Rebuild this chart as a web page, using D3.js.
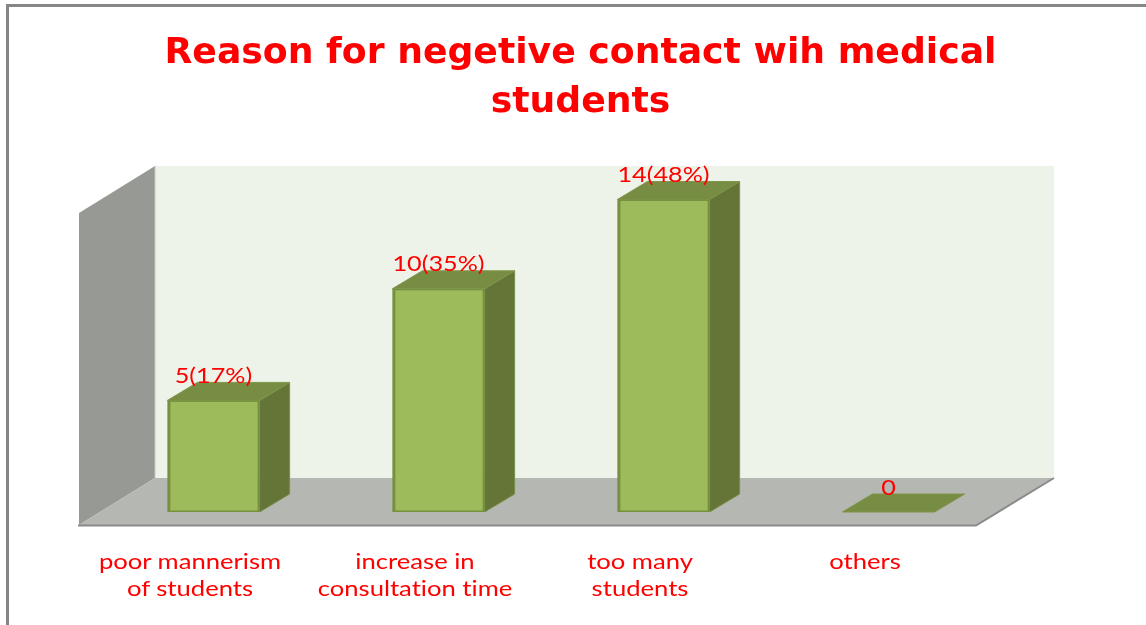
<!DOCTYPE html>
<html><head><meta charset="utf-8">
<script src="https://cdn.jsdelivr.net/npm/d3@7/dist/d3.min.js"></script>
<style>html,body{margin:0;padding:0;background:#fff;overflow:hidden}svg{display:block}text{font-variant-ligatures:none}</style>
</head><body><svg id="c" width="1146" height="625"></svg>
<script>
const categories = ["poor mannerism of students","increase in consultation time","too many students","others"];
const tickLines = [["poor mannerism","of students"],["increase in","consultation time"],["too many","students"],["others"]];
const values = [5,10,14,0];
const valueLabels = ["5(17%)","10(35%)","14(48%)","0"];
const titleLines = ["Reason for negetive contact wih medical","students"];

const svg = d3.select("#c");
const W = 1146;
const defs = svg.append("defs");
defs.append("filter").attr("id","soft").append("feGaussianBlur").attr("stdDeviation",0.35);

// frame
svg.append("path").attr("d",`M7.5,625V5.5H${W}`).attr("fill","none").attr("stroke","#868686").attr("stroke-width",3);

// scales
const x = d3.scaleBand().domain(categories).range([101,1001]).paddingInner(0.59).paddingOuter(0.295);
const y = d3.scaleLinear().domain([0,14]).range([512,199.5]);
const wallLeft=79, wallRight=976, floorFront=525, depthX=76, depthY=47, wallTop=213;
const barDX=30, barDY=18;
const poly=(pts)=>"M"+pts.map(p=>p.join(",")).join("L")+"Z";

// back wall
svg.append("path").attr("d",poly([[wallLeft+depthX,wallTop-depthY],[wallRight+depthX+2,wallTop-depthY],[wallRight+depthX+2,floorFront-depthY],[wallLeft+depthX,floorFront-depthY]])).attr("fill","#eef3e9");
// side wall
svg.append("path").attr("d",poly([[wallLeft,wallTop],[wallLeft+depthX,wallTop-depthY],[wallLeft+depthX,floorFront-depthY],[wallLeft,floorFront]])).attr("fill","#979a94");
svg.append("line").attr("x1",wallLeft+depthX).attr("x2",wallLeft+depthX).attr("y1",wallTop-depthY).attr("y2",floorFront-depthY).attr("stroke","#c4c7c0").attr("stroke-width",1);
// floor
svg.append("path").attr("d",poly([[wallLeft,floorFront],[wallLeft+depthX,floorFront-depthY],[wallRight+depthX+2,floorFront-depthY],[wallRight,floorFront]])).attr("fill","#b5b7b2");
svg.append("path").attr("d",`M${wallLeft-1},${floorFront+.5}H${wallRight}L${wallRight+depthX+2},${floorFront-depthY}`).attr("fill","none").attr("stroke","#8a8a8a").attr("stroke-width",2);

// bars
const g = svg.selectAll("g.bar").data(categories.map((c,i)=>({c,v:values[i],l:valueLabels[i]}))).join("g").attr("class","bar");
const base = y(0);
g.filter(d=>d.v>0).append("path").attr("d",d=>{const a=x(d.c)+x.bandwidth(),t=y(d.v);
  return poly([[a,t],[a+barDX,t-barDY],[a+barDX,base-barDY],[a,base]]);}).attr("fill","#647537").attr("stroke","#7a8f48").attr("stroke-width",1);
g.append("path").attr("d",d=>{const a=x(d.c),b=a+x.bandwidth(),t=y(d.v);
  return poly([[a,t],[a+barDX,t-barDY],[b+barDX,t-barDY],[b,t]]);}).attr("fill","#778d43").attr("stroke","#7f9549").attr("stroke-width",1);
g.filter(d=>d.v>0).append("rect").attr("x",d=>x(d.c)).attr("y",d=>y(d.v)).attr("width",x.bandwidth()).attr("height",d=>base-y(d.v))
  .attr("fill","#76903f");
g.filter(d=>d.v>0).append("rect").attr("x",d=>x(d.c)+3).attr("y",d=>y(d.v)+1.5).attr("width",x.bandwidth()-5).attr("height",d=>base-y(d.v)-3)
  .attr("fill","#9dbb5a");

// value labels
g.append("text").attr("transform",d=>`translate(${x(d.c)+x.bandwidth()/2},${y(d.v)-17.5}) scale(1.2,1)`)
  .attr("text-anchor","middle").attr("font-family","Lato").attr("font-size",21).attr("fill","#ff0000").attr("filter","url(#soft)").text(d=>d.l);

// tick labels
const tickG = svg.selectAll("g.tick").data(categories).join("g").attr("class","tick");
tickG.each(function(c,i){
  const t=d3.select(this);
  tickLines[i].forEach((ln,j)=>t.append("text")
    .attr("transform",`translate(${x(c)+x.bandwidth()/2-23.5},${569+j*27}) scale(1.25,1)`)
    .attr("text-anchor","middle").attr("font-family","Lato").attr("font-size",20.5)
    .attr("fill","#ff0000").attr("filter","url(#soft)").text(ln));
});

// title
svg.selectAll("text.title").data(titleLines).join("text").attr("class","title")
  .attr("x",580.5).attr("y",(d,i)=>63+i*49).attr("text-anchor","middle")
  .attr("font-family","DejaVu Sans").attr("font-weight","bold").attr("font-size",36.2).attr("fill","#ff0000").attr("filter","url(#soft)").text(d=>d);
</script></body></html>
